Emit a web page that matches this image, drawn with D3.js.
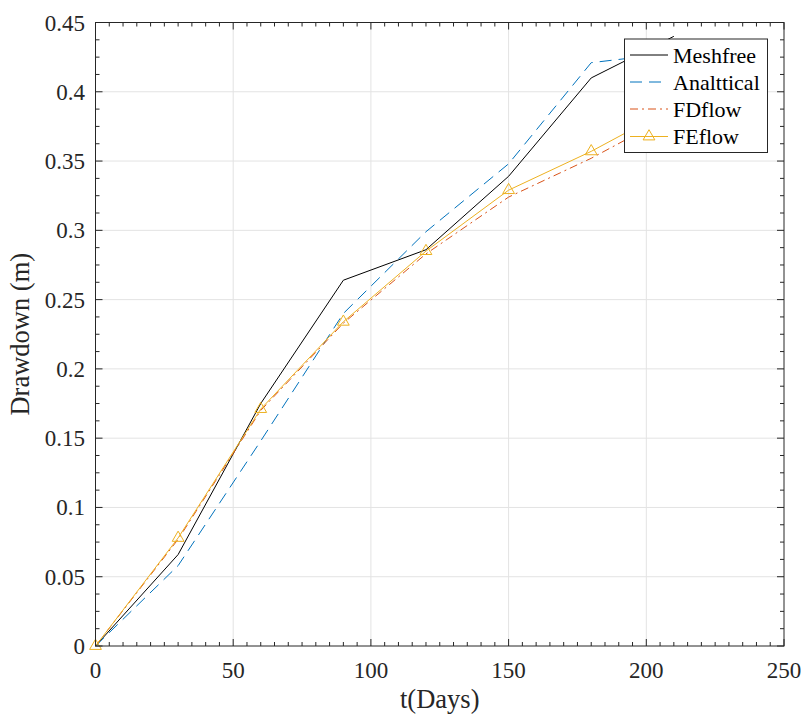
<!DOCTYPE html>
<html><head><meta charset="utf-8">
<script src="https://cdn.jsdelivr.net/npm/d3@7"></script>
<style>body{margin:0;background:#fff}</style>
</head><body>
<script>
const days = [0, 30, 60, 90, 120, 150, 180, 210];
const meshfree = [0, 0.066, 0.175, 0.264, 0.286, 0.339, 0.410, 0.440];
const analytical = [0, 0.058, 0.148, 0.240, 0.299, 0.348, 0.421, 0.428];
const fdflow = [0, 0.077, 0.170, 0.233, 0.283, 0.324, 0.352, 0.384];
const feflow = [0, 0.078, 0.171, 0.234, 0.285, 0.329, 0.357, 0.389];
const seriesNames = ["Meshfree", "Analttical", "FDflow", "FEflow"];
const xTicks = [0, 50, 100, 150, 200, 250];
const yTicks = [0, 0.05, 0.1, 0.15, 0.2, 0.25, 0.3, 0.35, 0.4, 0.45];
const yTickLabels = ["0", "0.05", "0.1", "0.15", "0.2", "0.25", "0.3", "0.35", "0.4", "0.45"];

const W = 803, H = 715;
const m = {left: 95.5, right: 784, top: 22.5, bottom: 646};
const font = "'Liberation Serif', 'Times New Roman', serif";
const svg = d3.select("body").append("svg").attr("width", W).attr("height", H);
const x = d3.scaleLinear().domain([0, 250]).range([m.left, m.right]);
const y = d3.scaleLinear().domain([0, 0.45]).range([m.bottom, m.top]);

// grid
const g = svg.append("g");
g.selectAll("line.gx").data(xTicks.slice(1, -1)).enter().append("line")
  .attr("x1", d => x(d)).attr("x2", d => x(d)).attr("y1", m.top).attr("y2", m.bottom)
  .attr("stroke", "#e3e3e3").attr("stroke-width", 1);
g.selectAll("line.gy").data(yTicks.slice(1, -1)).enter().append("line")
  .attr("y1", d => y(d)).attr("y2", d => y(d)).attr("x1", m.left).attr("x2", m.right)
  .attr("stroke", "#e3e3e3").attr("stroke-width", 1);

// series
const cols = ["#000000", "#0072BD", "#D95319", "#EDB120"];
const dashes = [null, "12,7", "8,4,2,4", null];
const data = [meshfree, analytical, fdflow, feflow];
const line = d3.line().x((d, i) => x(days[i])).y(d => y(d));
data.forEach((s, k) => {
  svg.append("path").datum(s).attr("d", line).attr("fill", "none")
    .attr("stroke", cols[k]).attr("stroke-width", 1)
    .attr("stroke-dasharray", dashes[k]);
});
const tri = d3.symbol().type(d3.symbolTriangle).size(60);
svg.selectAll("path.tri").data(feflow).enter().append("path")
  .attr("transform", (d, i) => `translate(${x(days[i])},${y(d)})`)
  .attr("d", tri).attr("fill", "none").attr("stroke", cols[3]).attr("stroke-width", 1);

// axes box + ticks (inward)
const ax = svg.append("g").attr("stroke", "#262626").attr("stroke-width", 1);
ax.append("rect").attr("x", m.left).attr("y", m.top).attr("width", m.right - m.left)
  .attr("height", m.bottom - m.top).attr("fill", "none");
const xMinor = d3.range(0, 251, 5);
const yMinor = d3.range(0, 0.4501, 0.0125);
xMinor.forEach(v => {
  const len = (v % 50 === 0) ? 7 : 4;
  ax.append("line").attr("x1", x(v)).attr("x2", x(v)).attr("y1", m.bottom).attr("y2", m.bottom - len);
  ax.append("line").attr("x1", x(v)).attr("x2", x(v)).attr("y1", m.top).attr("y2", m.top + len);
});
yMinor.forEach((v, i) => {
  const len = (i % 4 === 0) ? 7 : 4;
  ax.append("line").attr("y1", y(v)).attr("y2", y(v)).attr("x1", m.left).attr("x2", m.left + len);
  ax.append("line").attr("y1", y(v)).attr("y2", y(v)).attr("x1", m.right).attr("x2", m.right - len);
});

// tick labels
svg.selectAll("text.xt").data(xTicks).enter().append("text")
  .attr("x", d => x(d)).attr("y", 678).attr("text-anchor", "middle")
  .attr("font-family", font).attr("font-size", 23).attr("fill", "#262626").text(d => d);
svg.selectAll("text.yt").data(yTicks).enter().append("text")
  .attr("x", 85).attr("y", d => y(d) + 8).attr("text-anchor", "end")
  .attr("font-family", font).attr("font-size", 23).attr("fill", "#262626")
  .text((d, i) => yTickLabels[i]);

// axis titles
svg.append("text").attr("x", (m.left + m.right) / 2).attr("y", 708).attr("text-anchor", "middle")
  .attr("font-family", font).attr("font-size", 26.5).attr("fill", "#262626").text("t(Days)");
svg.append("text").attr("transform", `translate(29,${(m.top + m.bottom) / 2}) rotate(-90)`)
  .attr("text-anchor", "middle").attr("font-family", font).attr("font-size", 26.5)
  .attr("fill", "#262626").text("Drawdown (m)");

// legend
const lg = svg.append("g");
lg.append("rect").attr("x", 624.5).attr("y", 39).attr("width", 143).attr("height", 113.5)
  .attr("fill", "#fff").attr("stroke", "#262626").attr("stroke-width", 1);
const ly = [55, 82, 109, 136.5];
seriesNames.forEach((n, k) => {
  lg.append("line").attr("x1", 630).attr("x2", 668).attr("y1", ly[k]).attr("y2", ly[k])
    .attr("stroke", cols[k]).attr("stroke-width", 1).attr("stroke-dasharray", dashes[k]);
  lg.append("text").attr("x", 673).attr("y", ly[k] + 7.5).attr("font-family", font)
    .attr("font-size", 22).attr("fill", "#000").text(n);
});
lg.append("path").attr("transform", `translate(649,${ly[3]})`).attr("d", tri)
  .attr("fill", "none").attr("stroke", cols[3]).attr("stroke-width", 1);
</script>
</body></html>
